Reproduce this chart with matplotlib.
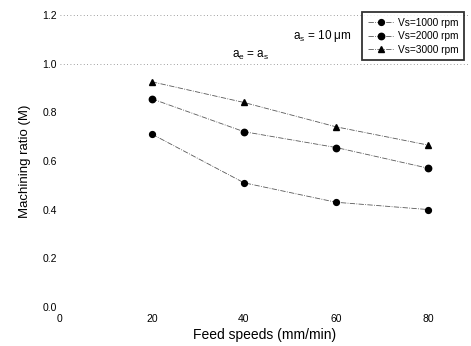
import matplotlib.pyplot as plt

# Data
feed = [20, 40, 60, 80]
vs1000 = [0.71, 0.51, 0.43, 0.40]
vs2000 = [0.855, 0.72, 0.655, 0.57]
vs3000 = [0.925, 0.84, 0.74, 0.665]
labels = ['Vs=1000 rpm', 'Vs=2000 rpm', 'Vs=3000 rpm']

plt.rcParams['font.family'] = ['Liberation Sans', 'DejaVu Sans']
plt.rcParams['mathtext.default'] = 'regular'

fig = plt.figure(figsize=(4.71, 3.46), dpi=100)
ax = fig.add_axes([0.127, 0.113, 0.87, 0.844])

ax.plot(feed, vs1000, '-.', color='0.35', linewidth=0.6, marker='o',
        markersize=4.2, markerfacecolor='black', markeredgecolor='black', label=labels[0])
ax.plot(feed, vs2000, '-.', color='0.35', linewidth=0.6, marker='o',
        markersize=4.6, markerfacecolor='black', markeredgecolor='black', label=labels[1])
ax.plot(feed, vs3000, '-.', color='0.35', linewidth=0.6, marker='^',
        markersize=4.6, markerfacecolor='black', markeredgecolor='black', label=labels[2])

# faint dotted reference lines
for yv in [0.0, 1.0, 1.2]:
    ax.axhline(yv, color='0.5', linestyle=(0, (1, 3)), linewidth=0.6, zorder=0)

ax.set_xlim(0, 89)
ax.set_ylim(0, 1.2)
ax.set_xticks([0, 20, 40, 60, 80])
ax.set_yticks([0.0, 0.2, 0.4, 0.6, 0.8, 1.0, 1.2])
ax.set_yticklabels(['0.0', '0.2', '0.4', '0.6', '0.8', '1.0', '1.2'])
ax.tick_params(length=0, labelsize=7.5, pad=2)
ax.tick_params(axis='x', pad=5)
for s in ax.spines.values():
    s.set_visible(False)

ax.set_xlabel('Feed speeds (mm/min)', fontsize=10, labelpad=3)
ax.set_ylabel('Machining ratio (M)', fontsize=9.5, labelpad=8)

ax.text(57.0, 1.115, 'a$_s$ = 10 \u03bcm', fontsize=8.5, ha='center', va='center')
ax.text(41.5, 1.035, 'a$_e$ = a$_s$', fontsize=8.5, ha='center', va='center')

leg = fig.legend(loc='upper left', bbox_to_anchor=(362 / 471, 1 - 12 / 346), fontsize=7.3,
                 frameon=True, fancybox=False, handlelength=2.6, handletextpad=0.4,
                 borderpad=0.55, labelspacing=0.35, borderaxespad=0)
leg.get_frame().set_edgecolor('black')
leg.get_frame().set_linewidth(1.3)

fig.savefig('out.png', dpi=100)
